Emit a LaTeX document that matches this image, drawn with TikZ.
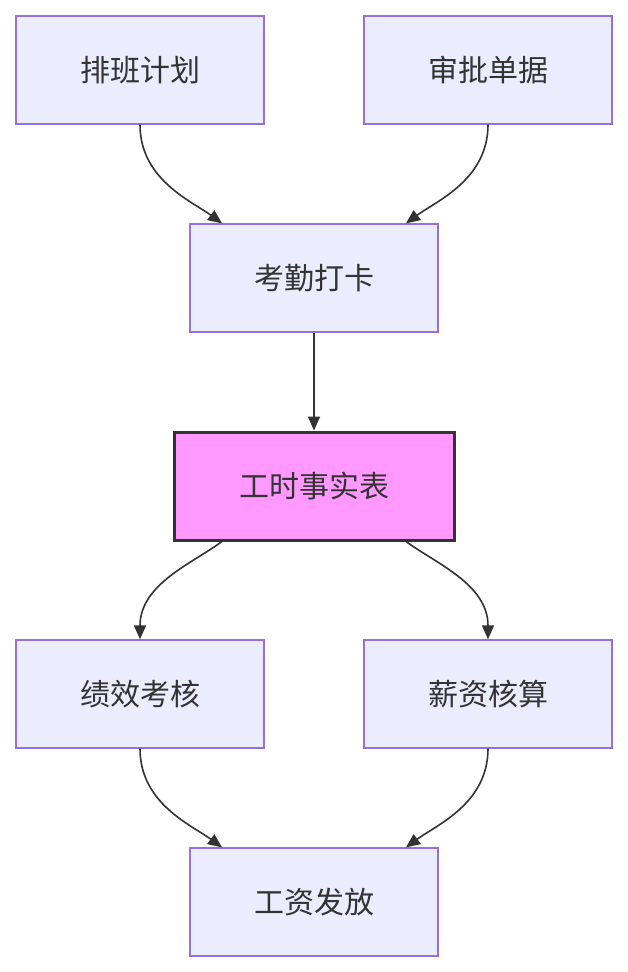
\documentclass[tikz,border=0pt]{standalone}
\usepackage{fontspec}
\setmainfont{Noto Sans CJK SC}
\usetikzlibrary{arrows.meta}
\definecolor{nf}{HTML}{ECECFF}
\definecolor{ns}{HTML}{9370DB}
\definecolor{ln}{HTML}{333333}
\begin{document}
\begin{tikzpicture}[x=1pt,y=-1pt,
  box/.style={draw=ns,fill=nf,line width=1.3pt,minimum width=248pt,minimum height=108pt,inner sep=0pt,font=\fontsize{30}{36}\selectfont,text=ln},
  fact/.style={box,draw=ln,fill={rgb,255:red,255;green,153;blue,255},line width=3pt,minimum width=280pt},
  arr/.style={draw=ln,line width=1.6pt,-{Triangle[length=14pt,width=12pt]}}]
\fill[white] (0,0) rectangle (628,972);
\useasboundingbox (0,0) rectangle (628,972);
\node[box] (a) at (140,70) {排班计划};
\node[box] (b) at (488,70) {审批单据};
\node[box] (c) at (314,278) {考勤打卡};
\node[fact] (d) at (314,486) {工时事实表};
\node[box] (e) at (140,694) {绩效考核};
\node[box] (f) at (488,694) {薪资核算};
\node[box] (g) at (314,902) {工资发放};
\draw[arr] (a.south) .. controls +(0,55) and +(-30,-22) .. ([xshift=-92pt]c.north);
\draw[arr] (b.south) .. controls +(0,55) and +(30,-22) .. ([xshift=92pt]c.north);
\draw[arr] (c.south) -- (d.north);
\draw[arr] ([xshift=-92pt]d.south) .. controls +(-30,22) and +(0,-55) .. (e.north);
\draw[arr] ([xshift=92pt]d.south) .. controls +(30,22) and +(0,-55) .. (f.north);
\draw[arr] (e.south) .. controls +(0,55) and +(-30,-22) .. ([xshift=-92pt]g.north);
\draw[arr] (f.south) .. controls +(0,55) and +(30,-22) .. ([xshift=92pt]g.north);
\end{tikzpicture}
\end{document}
